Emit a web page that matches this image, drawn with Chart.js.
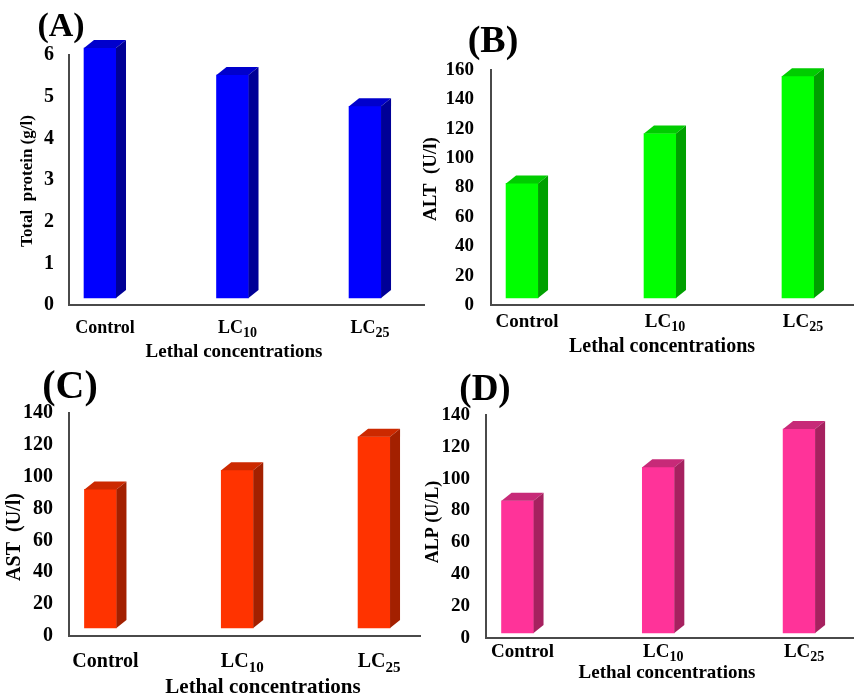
<!DOCTYPE html>
<html>
<head>
<meta charset="utf-8">
<script src="https://cdn.jsdelivr.net/npm/chart.js@4.4.1/dist/chart.umd.min.js"></script>
<style>
  html, body { margin: 0; padding: 0; background: #fff; }
  #wrap { position: relative; width: 854px; height: 697px; overflow: hidden; }
  #wrap canvas { position: absolute; left: 0; top: 0; }
</style>
</head>
<body>
<div id="wrap">
  <canvas id="chartA" width="854" height="697"></canvas>
  <canvas id="chartB" width="854" height="697"></canvas>
  <canvas id="chartC" width="854" height="697"></canvas>
  <canvas id="chartD" width="854" height="697"></canvas>
</div>
<script>
// --- データ ---
const categories = ['Control', 'LC', 'LC'];
const subscripts = ['', '10', '25'];
const xTitle = 'Lethal concentrations';

const proteinValues = [6.0, 5.35, 4.6];
const altValues = [78, 112, 151];
const astValues = [87, 99, 120];
const alpValues = [83, 104, 128];

const proteinTicks = { max: 6, step: 1 };
const altTicks = { max: 160, step: 20 };
const astTicks = { max: 140, step: 20 };
const alpTicks = { max: 140, step: 20 };

const FONT = '"Liberation Serif", "Times New Roman", serif';

// 3D風の上面・側面を描くプラグイン
const depthPlugin = {
    id: 'depth3d',
    beforeDatasetsDraw(chart, args, opts) {
        chart.ctx.save();
        chart.ctx.translate(0, -opts.lift);
    },
    afterDatasetsDraw(chart, args, opts) {
        const ctx = chart.ctx;
        chart.getDatasetMeta(0).data.forEach(bar => {
            const { x, y, base, width } = bar.getProps(['x', 'y', 'base', 'width'], true);
            const l = x - width / 2, r = x + width / 2;
            ctx.fillStyle = opts.top;
            ctx.beginPath();
            ctx.moveTo(l, y);
            ctx.lineTo(l + opts.dx, y - opts.dz);
            ctx.lineTo(r + opts.dx, y - opts.dz);
            ctx.lineTo(r, y);
            ctx.closePath();
            ctx.fill();
            ctx.fillStyle = opts.side;
            ctx.beginPath();
            ctx.moveTo(r, y);
            ctx.lineTo(r + opts.dx, y - opts.dz);
            ctx.lineTo(r + opts.dx, base - opts.dz);
            ctx.lineTo(r, base);
            ctx.closePath();
            ctx.fill();
        });
        ctx.restore();
    }
};

// パネル文字・軸タイトル・カテゴリラベル（下付き文字あり）
const textPlugin = {
    id: 'panelText',
    afterDraw(chart, args, o) {
        const ctx = chart.ctx;
        ctx.save();
        ctx.fillStyle = '#000';
        ctx.textBaseline = 'middle';

        // (A) など
        ctx.font = `bold ${o.letterSize}px ${FONT}`;
        ctx.textAlign = 'center';
        ctx.fillText(o.letter, o.letterPos[0], o.letterPos[1]);

        // 縦軸タイトル
        ctx.save();
        ctx.translate(o.yTitlePos[0], o.yTitlePos[1]);
        ctx.rotate(-Math.PI / 2);
        ctx.font = `bold ${o.yTitleSize}px ${FONT}`;
        ctx.fillText(o.yTitle, 0, 0);
        ctx.restore();

        // カテゴリラベル
        const xs = chart.scales.x;
        const s = o.catSize, sub = Math.round(s * 0.75);
        categories.forEach((c, i) => {
            ctx.font = `bold ${s}px ${FONT}`;
            const w1 = ctx.measureText(c).width;
            ctx.font = `bold ${sub}px ${FONT}`;
            const w2 = subscripts[i] ? ctx.measureText(subscripts[i]).width : 0;
            const cx = xs.getPixelForValue(i) + 5;
            let left = cx - (w1 + w2) / 2;
            ctx.textAlign = 'left';
            ctx.font = `bold ${s}px ${FONT}`;
            ctx.fillText(c, left, o.catY);
            if (subscripts[i]) {
                ctx.font = `bold ${sub}px ${FONT}`;
                ctx.fillText(subscripts[i], left + w1, o.catY + s * 0.3);
            }
        });

        // 横軸タイトル
        ctx.textAlign = 'center';
        ctx.font = `bold ${o.xTitleSize}px ${FONT}`;
        ctx.fillText(xTitle, o.xTitlePos[0], o.xTitlePos[1]);
        ctx.restore();
    }
};

function makePanel(id, values, ticks, p) {
    const ctx = document.getElementById(id).getContext('2d');
    return new Chart(ctx, {
        type: 'bar',
        data: {
            datasets: [{
                data: values.map((v, i) => ({ x: i, y: v })),
                backgroundColor: p.front,
                borderWidth: 0,
                barThickness: 32,
                clip: false
            }]
        },
        options: {
            responsive: false,
            animation: false,
            devicePixelRatio: 1,
            layout: {
                padding: { left: p.left - 60, top: p.top, right: 854 - p.right, bottom: 697 - p.bottom - 2 }
            },
            scales: {
                x: {
                    type: 'linear',
                    offset: false,
                    min: p.xMin,
                    max: p.xMax,
                    afterBuildTicks: s => { s.ticks = categories.map((c, i) => ({ value: i })); },
                    afterFit: s => { s.height = 2; },
                    grid: { display: false, drawTicks: false },
                    border: { display: true, color: '#4a4a4a', width: 2 },
                    ticks: { display: false }
                },
                y: {
                    min: 0,
                    max: ticks.max,
                    afterFit: s => { s.width = 60; },
                    grid: { display: false, drawTicks: false },
                    border: { display: true, color: '#4a4a4a', width: 2 },
                    ticks: {
                        stepSize: ticks.step,
                        padding: p.tickPad,
                        color: '#000',
                        font: { family: FONT, size: p.tickSize, weight: 'bold' }
                    }
                }
            },
            plugins: {
                legend: { display: false },
                tooltip: { enabled: false },
                depth3d: { lift: p.lift, dx: 10, dz: 8, top: p.topColor, side: p.sideColor },
                panelText: p.text
            }
        },
        plugins: [depthPlugin, textPlugin]
    });
}

makePanel('chartA', proteinValues, proteinTicks, {
    left: 69, top: 55, right: 424, bottom: 305, xMin: -0.234, xMax: 2.445,
    lift: 7, tickPad: 15, tickSize: 20,
    front: '#0000ff', topColor: '#0000cc', sideColor: '#000096',
    text: {
        letter: '(A)', letterSize: 34, letterPos: [61, 27],
        yTitle: 'Total  protein (g/l)', yTitleSize: 17, yTitlePos: [28, 181],
        catSize: 18, catY: 328,
        xTitleSize: 19, xTitlePos: [234, 352]
    }
});

makePanel('chartB', altValues, altTicks, {
    left: 491, top: 70, right: 854, bottom: 305, xMin: -0.225, xMax: 2.406,
    lift: 7, tickPad: 17, tickSize: 19,
    front: '#00ff00', topColor: '#00cc00', sideColor: '#00a000',
    text: {
        letter: '(B)', letterSize: 38, letterPos: [493, 42],
        yTitle: 'ALT  (U/l)', yTitleSize: 19, yTitlePos: [431, 179],
        catSize: 19, catY: 322,
        xTitleSize: 20, xTitlePos: [662, 347]
    }
});

makePanel('chartC', astValues, astTicks, {
    left: 69, top: 413, right: 420, bottom: 636, xMin: -0.23, xMax: 2.336,
    lift: 8, tickPad: 16, tickSize: 20,
    front: '#ff3300', topColor: '#cc2900', sideColor: '#a32000',
    text: {
        letter: '(C)', letterSize: 40, letterPos: [70, 388],
        yTitle: 'AST  (U/l)', yTitleSize: 20, yTitlePos: [15, 537],
        catSize: 20, catY: 662,
        xTitleSize: 21, xTitlePos: [263, 688]
    }
});

makePanel('chartD', alpValues, alpTicks, {
    left: 486, top: 415, right: 854, bottom: 638, xMin: -0.224, xMax: 2.39,
    lift: 5, tickPad: 16, tickSize: 19,
    front: '#ff3399', topColor: '#c72a78', sideColor: '#a6215f',
    text: {
        letter: '(D)', letterSize: 37, letterPos: [485, 390],
        yTitle: 'ALP (U/L)', yTitleSize: 18, yTitlePos: [433, 522],
        catSize: 19, catY: 652,
        xTitleSize: 19, xTitlePos: [667, 673]
    }
});
</script>
</body>
</html>
